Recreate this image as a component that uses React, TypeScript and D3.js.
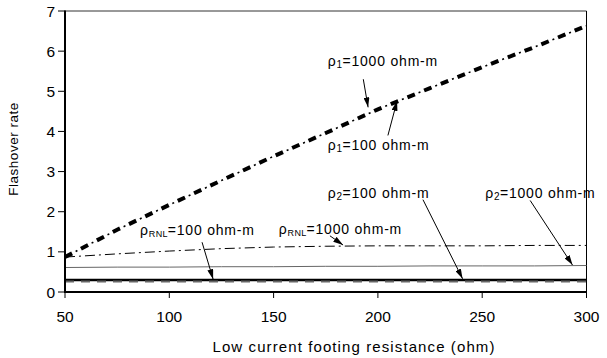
import React from 'react'
import * as d3 from 'd3'

// footing resistance (ohm)
const resistance = [50, 75, 100, 125, 150, 175, 200, 225, 250, 275, 300]
// flashover rate per series
const rho1_1000 = [0.87, 1.55, 2.17, 2.78, 3.38, 3.96, 4.55, 5.08, 5.6, 6.1, 6.63]
const rho1_100 = [0.87, 1.55, 2.17, 2.78, 3.38, 3.96, 4.55, 5.08, 5.6, 6.1, 6.63]
const rnl_1000 = [0.87, 0.95, 1.02, 1.08, 1.12, 1.14, 1.15, 1.15, 1.15, 1.16, 1.16]
const rho2_1000 = [0.61, 0.62, 0.62, 0.63, 0.63, 0.64, 0.64, 0.65, 0.65, 0.65, 0.66]
const rho2_100 = [0.3, 0.3, 0.3, 0.3, 0.3, 0.3, 0.3, 0.3, 0.3, 0.3, 0.3]
const rnl_100 = [0.26, 0.26, 0.26, 0.26, 0.26, 0.26, 0.26, 0.26, 0.26, 0.26, 0.26]

const xTicks = [50, 100, 150, 200, 250, 300]
const yTicks = [0, 1, 2, 3, 4, 5, 6, 7]

// annotation: label base, subscript, rest, text anchor (data units), arrow from -> to (data units)
const notes = [
  { base: 'ρ', sub: '1', rest: '=1000 ohm-m', at: [176, 5.64], from: [193, 5.3], to: [195.3, 4.6] },
  { base: 'ρ', sub: '1', rest: '=100 ohm-m', at: [176, 3.54], from: [204.8, 3.9], to: [209.2, 4.76] },
  { base: 'ρ', sub: '2', rest: '=100 ohm-m', at: [176, 2.35], from: [221.6, 2.3], to: [240.6, 0.33] },
  { base: 'ρ', sub: '2', rest: '=1000 ohm-m', at: [251.5, 2.35], from: [273, 2.28], to: [293.3, 0.67] },
  { base: 'ρ', sub: 'RNL', rest: '=1000 ohm-m', at: [152.5, 1.45], from: [177, 1.4], to: [183.3, 1.17] },
  { base: 'ρ', sub: 'RNL', rest: '=100 ohm-m', at: [86, 1.42], from: [115.7, 1.24], to: [121, 0.32] },
]

const series = [
  { values: rnl_1000, stroke: '#000', width: 1, dash: '10,4,2,4', offset: 0 },
  { values: rho2_1000, stroke: '#666', width: 1, dash: null, offset: 0 },
  { values: rho2_100, stroke: '#000', width: 2.6, dash: null, offset: 0 },
  { values: rnl_100, stroke: '#666', width: 2, dash: '9,7', offset: 0 },
  { values: rho1_1000, stroke: '#000', width: 1.6, dash: '2,16', offset: -12 },
  { values: rho1_100, stroke: '#000', width: 4, dash: '8,10', offset: 0 },
]

export default function App() {
  const width = 607
  const height = 358
  const x = d3.scaleLinear().domain([50, 300]).range([65, 586.5])
  const y = d3.scaleLinear().domain([0, 7]).range([292, 11])
  const font = 'Arial, "Liberation Sans", sans-serif'

  const line = (vals: number[]) =>
    d3.line<number>()
      .x((_, i) => x(resistance[i]))
      .y((d) => y(d))(vals) as string

  return (
    <svg width={width} height={height} style={{ position: 'absolute', left: 0, top: 0, background: '#fff' }} fontFamily={font}>
      <defs>
        <marker id="arr" viewBox="0 0 10 6" refX="10" refY="3" markerWidth="10" markerHeight="6" markerUnits="userSpaceOnUse" orient="auto">
          <path d="M0,0 L10,3 L0,6 z" fill="#000" />
        </marker>
      </defs>
      {/* frame */}
      <line x1={x(50)} x2={x(300)} y1={y(7)} y2={y(7)} stroke="#333" strokeWidth={1} />
      <line x1={x(300)} x2={x(300)} y1={y(7)} y2={y(0)} stroke="#000" strokeWidth={1} />

      {series.map((s, i) => (
        <path key={i} d={line(s.values)} fill="none" stroke={s.stroke} strokeWidth={s.width}
          strokeDasharray={s.dash ?? undefined} strokeDashoffset={s.offset} />
      ))}

      {/* axes */}
      <line x1={x(50)} x2={x(50)} y1={y(7) - 0.5} y2={y(0) + 1} stroke="#000" strokeWidth={2} />
      <line x1={x(50) - 1} x2={x(300)} y1={y(0)} y2={y(0)} stroke="#000" strokeWidth={2} />
      {yTicks.map((t) => (
        <g key={t}>
          <line x1={x(50) - 7} x2={x(50)} y1={y(t)} y2={y(t)} stroke="#000" strokeWidth={1} />
          <text x={55} y={y(t) + 5.5} textAnchor="end" fontSize={15.5}>{t}</text>
        </g>
      ))}
      {xTicks.map((t) => (
        <g key={t}>
          <line x1={x(t)} x2={x(t)} y1={y(0)} y2={y(0) + 6} stroke="#000" strokeWidth={1} />
          <text x={x(t)} y={322} textAnchor="middle" fontSize={15.5}>{t}</text>
        </g>
      ))}

      <text x={354} y={352} textAnchor="middle" fontSize={15} letterSpacing={1.1}>Low current footing resistance (ohm)</text>
      <text transform="translate(18,149) rotate(-90)" textAnchor="middle" fontSize={13.5} letterSpacing={0.5}>Flashover rate</text>

      {notes.map((n, i) => (
        <g key={i}>
          <text x={x(n.at[0])} y={y(n.at[1])} fontSize={14} letterSpacing={0.8}>
            {n.base}
            <tspan fontSize={n.sub.length > 1 ? 9 : 10} dy={2} letterSpacing={0.3}>{n.sub}</tspan>
            <tspan dy={-2}>{n.rest}</tspan>
          </text>
          <line x1={x(n.from[0])} y1={y(n.from[1])} x2={x(n.to[0])} y2={y(n.to[1])}
            stroke="#000" strokeWidth={1} markerEnd="url(#arr)" />
        </g>
      ))}
    </svg>
  )
}
